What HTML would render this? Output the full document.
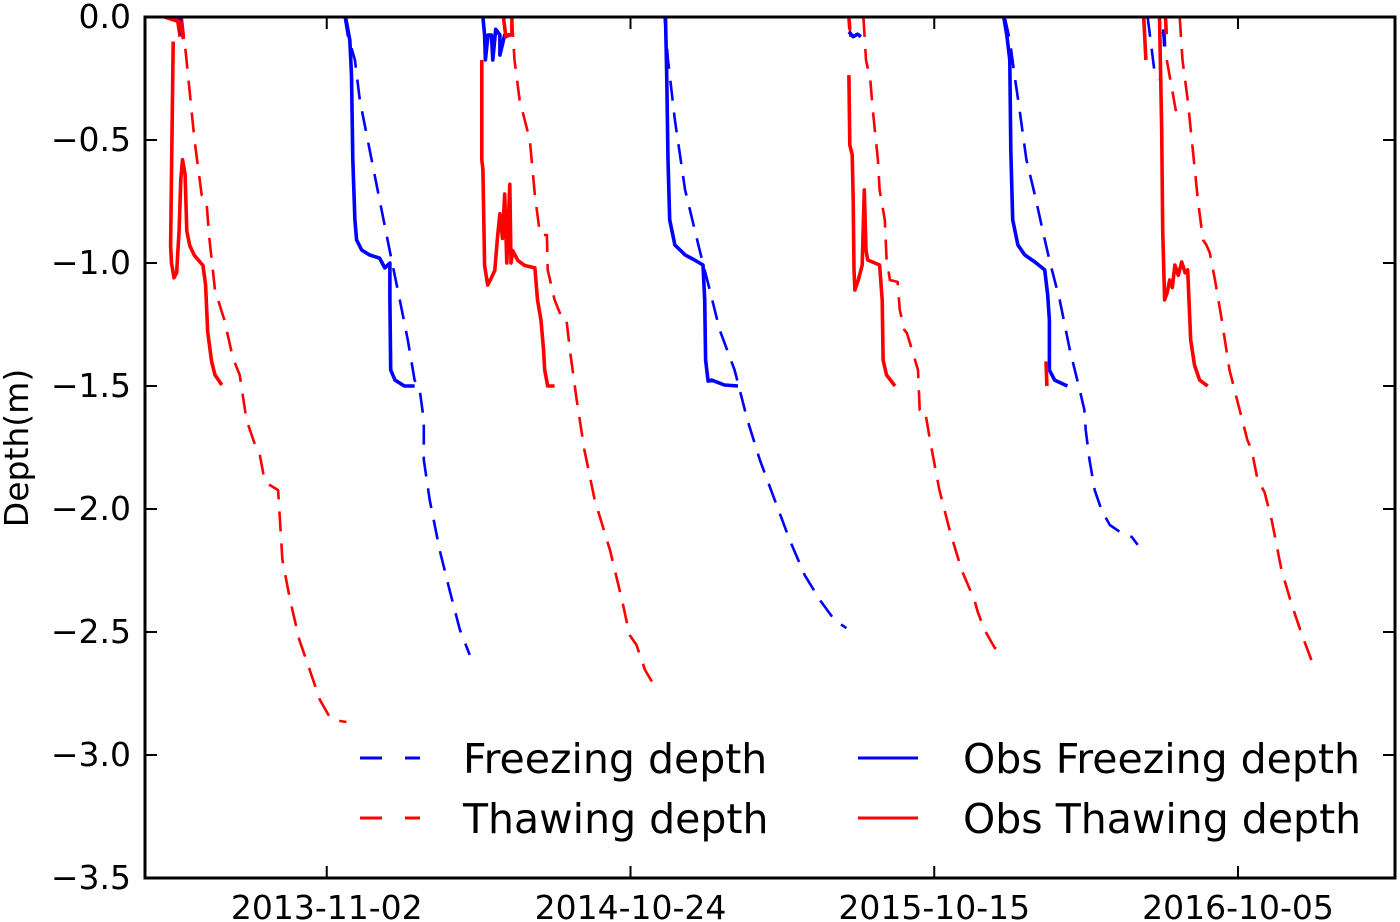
<!DOCTYPE html>
<html><head><meta charset="utf-8"><style>
html,body{margin:0;padding:0;background:#fff;}
svg{display:block;font-family:"DejaVu Sans","Liberation Sans",sans-serif;}
</style></head><body>
<svg id="chart" width="1400" height="922" viewBox="0 0 1400 922" xmlns="http://www.w3.org/2000/svg">
<g id="marks"></g>
<g id="axes"></g>
</svg>
<script>
// x = days since 2013-11-02, y = depth (m)
const xTickDays = [0, 356, 712, 1068];
const xTickLabels = ["2013-11-02","2014-10-24","2015-10-15","2016-10-05"];
const yTicks = [0,-0.5,-1,-1.5,-2,-2.5,-3,-3.5];
const yTickLabels = ["0.0","\u22120.5","\u22121.0","\u22121.5","\u22122.0","\u22122.5","\u22123.0","\u22123.5"];

const thawModel = [
 [[-170,0],[-165,-0.154],[-155,-0.5],[-146.5,-0.724],[-141,-0.744],[-138,-0.886],[-131,-1.11],[-120,-1.232],[-110,-1.386],[-102,-1.455],[-94,-1.638],[-84,-1.74],[-78.5,-1.78],[-73,-1.882],[-67,-1.902],[-57,-1.923],[-52,-2.207],[-43,-2.37],[-32,-2.533],[-20,-2.654],[-8,-2.776],[3.5,-2.846],[9,-2.858],[23,-2.866]],
 [[217,0],[220,-0.175],[226,-0.337],[238,-0.5],[244,-0.724],[250,-0.886],[258,-0.886],[259,-1.028],[267,-1.15],[276.6,-1.232],[281,-1.232],[285,-1.354],[293,-1.557],[302,-1.76],[314,-1.963],[332,-2.167],[346,-2.37],[355,-2.512],[363,-2.553],[373,-2.654],[387,-2.736]],
 [[629,0],[632,-0.175],[637,-0.256],[640,-0.378],[646,-0.58],[648,-0.703],[654,-0.825],[656,-0.98],[660,-1.069],[669,-1.077],[671.6,-1.191],[677,-1.272],[680,-1.285],[686,-1.354],[693,-1.435],[695,-1.598],[701,-1.598],[707,-1.72],[718,-1.923],[730,-2.085],[744,-2.248],[759,-2.37],[763,-2.419],[771,-2.492],[783,-2.565],[791,-2.573]],
 [[999.7,0],[1003,-0.175],[1009,-0.337],[1015,-0.54],[1021,-0.744],[1027,-0.906],[1031,-0.927],[1035,-0.959],[1041,-1.069],[1049,-1.232],[1058,-1.435],[1070,-1.598],[1079,-1.72],[1084,-1.76],[1091,-1.882],[1099,-1.931],[1107.5,-2.045],[1119,-2.248],[1131,-2.39],[1143,-2.512],[1154,-2.614]],
 [[984.5,-0.175],[996,-0.398]],
 [[612,0],[614,-0.09]],
 [[-176,0],[-172,-0.09]]
];
const freezeModel = [
 [[-174,0],[-169,-0.073]],
 [[21,0],[24.6,-0.073],[33,-0.175],[38.7,-0.337],[48,-0.5],[62,-0.744],[76,-0.988],[85.6,-1.15],[95,-1.313],[103,-1.476],[109,-1.516],[113.7,-1.638],[113.7,-1.8],[120.7,-1.963],[132.4,-2.167],[144,-2.33],[156,-2.49],[167.6,-2.593]],
 [[396,0],[400,-0.175],[408,-0.419],[420,-0.703],[437,-0.947],[449,-1.11],[460.6,-1.272],[478,-1.435],[493,-1.638],[507.5,-1.8],[525,-1.963],[542.6,-2.126],[560,-2.268],[578,-2.37],[595,-2.451],[609,-2.484]],
 [[794.6,0],[800.5,-0.093],[806,-0.236],[812,-0.378],[820,-0.58],[830,-0.724],[839,-0.866],[847,-0.988],[859,-1.15],[871,-1.354],[882.5,-1.516],[888,-1.598],[889.5,-1.679],[894,-1.8],[900,-1.923],[908,-2.004],[917.7,-2.065],[931.7,-2.098],[943.5,-2.114],[950.5,-2.146]],
 [[962,0],[967,-0.134],[970.6,-0.236],[974,-0.256]],
 [[980,-0.06],[982,-0.1]]
];
const thawObs = [
 [[-190,0],[-172,-0.02],[-168,-0.09]],
 [[-180,-0.1],[-183,-0.93],[-182,-1.0],[-179,-1.06],[-176,-1.04],[-173,-0.87],[-171,-0.66],[-169,-0.58],[-166,-0.64],[-164,-0.87],[-160.5,-0.93],[-155,-0.97],[-145,-1.01],[-142,-1.09],[-139.5,-1.28],[-135,-1.4],[-131,-1.455],[-123,-1.496]],
 [[181.7,-0.175],[181.7,-0.58],[183,-0.62],[185,-1.01],[188.7,-1.09],[193,-1.06],[197,-1.03],[200,-0.9],[203,-0.8],[206,-0.9],[208.6,-0.72],[211,-1.0],[214.5,-0.68],[216,-1.0],[218,-0.95],[224,-0.99],[232,-1.01],[244,-1.02],[247,-1.15],[251,-1.23],[254,-1.35],[255.5,-1.435],[259,-1.5],[267,-1.5]],
 [[207,0],[210,-0.08],[217,-0.07],[217,0]],
 [[612,-0.236],[613,-0.52],[615.8,-0.56],[617,-0.744],[618,-1.028],[619,-1.11],[623,-1.069],[627.6,-1.008],[630,-0.703],[632,-0.947],[634,-0.988],[648,-1.008],[651,-1.15],[652,-1.394],[656,-1.455],[666,-1.5]],
 [[612,0],[613,-0.05]],
 [[843,-1.4],[844,-1.5]],
 [[957.5,0],[960,-0.175]],
 [[976,0],[978.6,-0.459],[979.8,-0.866],[982,-1.15],[985,-1.12],[988,-1.069],[991,-1.1],[994,-1.008],[998,-1.05],[1002,-0.996],[1006,-1.04],[1009,-1.028],[1011,-1.191],[1012.6,-1.313],[1017,-1.415],[1023,-1.476],[1032.5,-1.5]],
 [[983,0],[984,-0.07]]
];
const freezeObs = [
 [[-172,0],[-170,-0.075]],
 [[22,0],[27,-0.093],[29,-0.236],[30.5,-0.58],[33,-0.825],[35,-0.906],[41,-0.947],[50,-0.967],[62,-0.98],[68,-1.02],[74,-1.0],[74,-1.15],[75,-1.435],[80,-1.476],[91,-1.5],[103,-1.5]],
 [[183,0],[185,-0.073],[186,-0.175],[189,-0.073],[193,-0.073],[194.6,-0.175],[198,-0.05],[203,-0.073],[203,-0.155],[208.6,-0.073],[216.8,-0.073]],
 [[397,0],[398.5,-0.256],[400,-0.58],[402,-0.825],[408,-0.927],[420,-0.967],[431,-0.988],[441,-1.008],[443,-1.15],[444,-1.394],[447,-1.48],[451,-1.476],[466,-1.496],[482,-1.5]],
 [[612,-0.06],[617,-0.08],[622,-0.07],[626,-0.08]],
 [[793.4,0],[797,-0.073],[800.5,-0.175],[801.7,-0.54],[804,-0.825],[810,-0.927],[818,-0.967],[830,-0.996],[841.5,-1.028],[845,-1.13],[847,-1.232],[847,-1.435],[853,-1.476],[868,-1.5]],
 [[981,-0.05],[982,-0.12]]
];

const L=145,R=1395,T=17,B=878;
const xMin=-213, xMax=184+1068;
function sx(d){return L+(d-xMin)/(xMax-xMin)*(R-L);}
function sy(v){return T+(0-v)/3.5*(B-T);}
const NS="http://www.w3.org/2000/svg";
const marks=document.getElementById('marks');
const axes=document.getElementById('axes');
function mk(tag,attrs,parent){const e=document.createElementNS(NS,tag);for(const k in attrs)e.setAttribute(k,attrs[k]);parent.appendChild(e);return e;}
const defs=mk('defs',{},marks);
const cp=mk('clipPath',{id:'clip'},defs);
mk('rect',{x:L,y:T,width:R-L,height:B-T},cp);
marks.setAttribute('clip-path','url(#clip)');
function drawSeries(list,color,dash,name){
  list.forEach(seg=>{
    const p=mk('polyline',{points:seg.map(q=>sx(q[0]).toFixed(1)+','+sy(q[1]).toFixed(1)).join(' '),fill:'none',stroke:color,'stroke-width':dash?2.6:3.6,'stroke-linejoin':'round'},marks);
    if(dash)p.setAttribute('stroke-dasharray',dash);
    
    
  });
}
drawSeries(freezeModel,'#0000ff','20 12','freezing-depth-line');
drawSeries(thawModel,'#ff0000','20 12','thawing-depth-line');
drawSeries(freezeObs,'#0000ff',null,'obs-freezing-depth-line');
drawSeries(thawObs,'#ff0000',null,'obs-thawing-depth-line');

const fr=mk('rect',{x:L,y:T,width:R-L,height:B-T,fill:'none',stroke:'#000','stroke-width':3},axes);


yTicks.forEach((v,i)=>{
  const y=sy(v);
  mk('line',{x1:L,x2:L+12,y1:y,y2:y,stroke:'#000','stroke-width':2},axes);
  mk('line',{x1:R-12,x2:R,y1:y,y2:y,stroke:'#000','stroke-width':2},axes);
  const t=mk('text',{x:L-14,y:y+11,'font-size':33,'text-anchor':'end',fill:'#000'},axes);
  t.textContent=yTickLabels[i];
  
  
});
xTickDays.forEach((d,i)=>{
  const x=sx(d);
  mk('line',{x1:x,x2:x,y1:B,y2:B-12,stroke:'#000','stroke-width':2},axes);
  mk('line',{x1:x,x2:x,y1:T,y2:T+12,stroke:'#000','stroke-width':2},axes);
  const t=mk('text',{x:x,y:B+41,'font-size':33,'text-anchor':'middle',fill:'#000'},axes);
  t.textContent=xTickLabels[i];
  
  
});
const yl=mk('text',{x:0,y:0,'font-size':33,'text-anchor':'middle',fill:'#000',transform:'translate(28,448) rotate(-90)'},axes);
yl.textContent='Depth(m)';



const leg=[['Freezing depth','#0000ff',true,360,463,758],['Thawing depth','#ff0000',true,360,463,818],['Obs Freezing depth','#0000ff',false,858,963,758],['Obs Thawing depth','#ff0000',false,858,963,818]];
leg.forEach(e=>{
  const g=mk('g',{},axes);
  
  
  const ln=mk('line',{x1:e[3],x2:e[3]+60,y1:e[5],y2:e[5],stroke:e[1],'stroke-width':3},g);
  if(e[2])ln.setAttribute('stroke-dasharray','22 23');
  const t=mk('text',{x:e[4],y:e[5]+15,'font-size':41,fill:'#000'},g);
  t.textContent=e[0];
});
</script>
</body></html>
